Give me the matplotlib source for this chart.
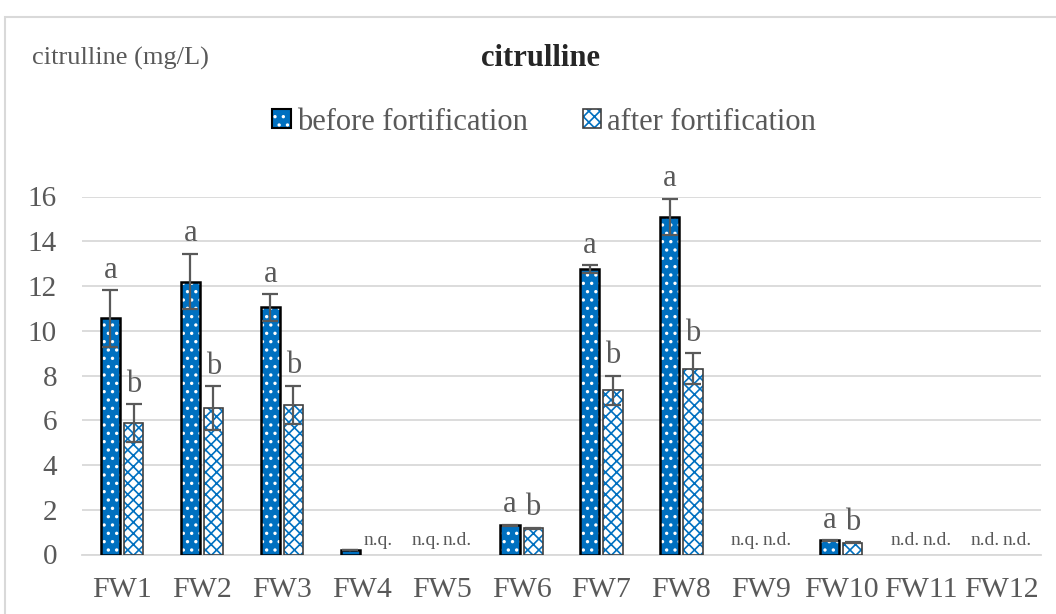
import matplotlib
matplotlib.use("Agg")
import matplotlib.pyplot as plt
import numpy as np
from matplotlib.patches import Patch

plt.rcParams['font.family'] = ['Liberation Serif', 'DejaVu Serif']
plt.rcParams['hatch.linewidth'] = 1.2

# data
categories = ['FW1', 'FW2', 'FW3', 'FW4', 'FW5', 'FW6', 'FW7', 'FW8', 'FW9', 'FW10', 'FW11', 'FW12']
before = [10.55, 12.2, 11.05, 0.2, np.nan, 1.3, 12.75, 15.1, np.nan, 0.63, np.nan, np.nan]
before_err = [1.27, 1.25, 0.6, 0.02, 0, 0.03, 0.18, 0.8, 0, 0.02, 0, 0]
after = [5.88, 6.54, 6.7, np.nan, np.nan, 1.18, 7.34, 8.3, np.nan, 0.53, np.nan, np.nan]
after_err = [0.83, 0.97, 0.85, 0, 0, 0.02, 0.65, 0.7, 0, 0.02, 0, 0]
before_lab = ['a', 'a', 'a', '', 'n.q.', 'a', 'a', 'a', 'n.q.', 'a', 'n.d.', 'n.d.']
after_lab = ['b', 'b', 'b', 'n.q.', 'n.d.', 'b', 'b', 'b', 'n.d.', 'b', 'n.d.', 'n.d.']

blue = '#0070C0'
grey = '#595959'

fig = plt.figure(figsize=(10.56, 6.14), dpi=100)
ax = fig.add_axes([82/1056, 1-554.5/614, (1041-82)/1056, (554.5-196.5)/614])

# outer chart border (only left/top visible)
fig.add_artist(plt.Rectangle((5/1056, -0.1), 1.2, 1-17/614+0.1, transform=fig.transFigure,
                             fill=False, edgecolor='#D9D9D9', linewidth=1.5))

x = np.arange(len(categories))
off = 0.145
w = 0.24
b = np.array(before)
a = np.array(after)

# before bars: blue with white dash pattern, black outline
ax.bar(x - off, b, w, color=blue, edgecolor='white', hatch='..', linewidth=0, zorder=3)
ax.bar(x - off, b, w, facecolor='none', edgecolor='black', linewidth=1.8, zorder=4)
# after bars: white with blue pattern, dark outline
ax.bar(x + off, a, w, color='white', edgecolor=blue, hatch='xxx', linewidth=0, zorder=3)
ax.bar(x + off, a, w, facecolor='none', edgecolor='#404040', linewidth=1.2, zorder=4)

ax.errorbar(x - off, b, yerr=before_err, fmt='none', ecolor=grey, elinewidth=1.6,
            capsize=6, capthick=1.6, zorder=5)
ax.errorbar(x + off, a, yerr=after_err, fmt='none', ecolor=grey, elinewidth=1.6,
            capsize=6, capthick=1.6, zorder=5)

for i in range(len(categories)):
    for val, err, lab, sgn in [(b[i], before_err[i], before_lab[i], -1),
                               (a[i], after_err[i], after_lab[i], 1)]:
        if lab in ('a', 'b'):
            ax.text(i + sgn*off, val + err + 0.55, lab, ha='center', va='baseline',
                    fontsize=22, color=grey, zorder=6)
        elif lab:
            ax.text(i + sgn*0.2, 0.42, lab, ha='center', va='baseline',
                    fontsize=14, color=grey, zorder=6)

ax.set_xlim(-0.5, len(categories) - 0.5)
ax.set_ylim(0, 16)
ax.set_yticks(np.arange(0, 17, 2))
ax.set_xticks(x)
ax.set_xticklabels(categories)
ax.tick_params(axis='both', length=0, labelcolor=grey)
ax.tick_params(axis='x', pad=16, labelsize=21.5)
ax.tick_params(axis='y', pad=18, labelsize=21)
ax.yaxis.grid(True, color='#D9D9D9', linewidth=1.3, zorder=0)
ax.set_axisbelow(True)
for s in ['top', 'right', 'left']:
    ax.spines[s].set_visible(False)
ax.spines['bottom'].set_color('#D9D9D9')
ax.spines['bottom'].set_linewidth(1.3)

fig.text(32/1056, 1-58/614, 'citrulline (mg/L)', fontsize=19, color=grey, va='center', ha='left')
fig.text(540/1056, 1-58/614, 'citrulline', fontsize=22, fontweight='bold', color='#262626',
         va='center', ha='center')

h_before = (Patch(facecolor=blue, edgecolor='white', hatch='..', linewidth=0),
            Patch(facecolor='none', edgecolor='black', linewidth=1.5))
h_after = (Patch(facecolor='white', edgecolor=blue, hatch='xxx', linewidth=0),
           Patch(facecolor='none', edgecolor='#404040', linewidth=1.2))
fig.legend([h_before, h_after], ['before fortification', 'after fortification'],
           loc='center', bbox_to_anchor=(544/1056, 1-122/614), ncol=2, frameon=False,
           fontsize=22, labelcolor=grey, handlelength=0.6, handleheight=0.6,
           handletextpad=0.2, columnspacing=1.8)

fig.savefig('out.png', dpi=100)
